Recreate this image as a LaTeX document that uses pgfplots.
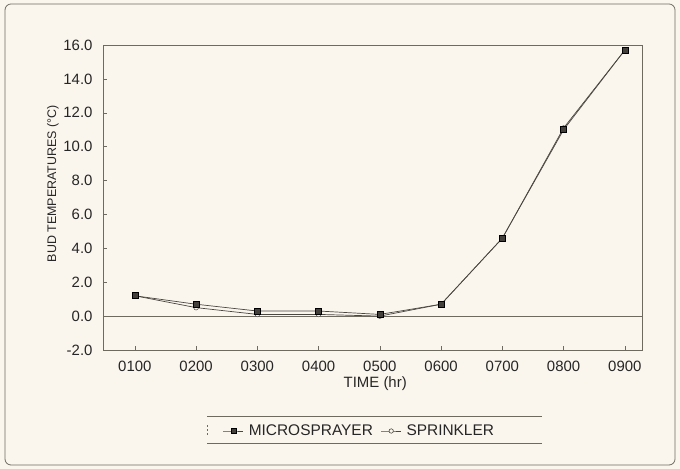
\documentclass[border=0pt]{standalone}
\usepackage{pgfplots}
\pgfplotsset{compat=1.18}
\usepackage{fontspec}
\setmainfont{Liberation Sans}
\definecolor{bg}{HTML}{FAF6EE}
\definecolor{ln}{HTML}{4A4640}
\definecolor{fr}{HTML}{6E6A60}
\begin{document}
\begin{tikzpicture}[x=1bp,y=1bp]
\fill[bg] (0,0) rectangle (680,469);
\draw[fr, line width=0.8pt, rounded corners=6bp] (5,4) rectangle (675,465);
\begin{axis}[
  at={(103bp,119bp)}, anchor=south west,
  scale only axis, width=539bp, height=305bp,
  xmin=0.48, xmax=9.28, ymin=-2, ymax=16,
  xtick={1,...,9},
  xticklabels={0100,0200,0300,0400,0500,0600,0700,0800,0900},
  ytick={-2,0,...,16},
  yticklabel style={xshift=-7bp, /pgf/number format/.cd,fixed,fixed zerofill,precision=1},
  xticklabel style={yshift=-8bp},
  /pgf/number format/assume math mode=true,
  tick label style={font=\fontsize{15}{17}\selectfont, text=black!85},
  xlabel={TIME (hr)}, ylabel={BUD TEMPERATURES (°C)},
  xlabel style={font=\fontsize{15}{17}\selectfont, text=black!85,
    at={(axis description cs:0.505,-0.111)}, anchor=center},
  ylabel style={font=\fontsize{12.5}{14}\selectfont, text=black!85,
    at={(axis description cs:-0.093,0.545)}, anchor=center},
  axis line style={fr, line width=0.6pt},
  tick style={fr, line width=0.5pt},
  major tick length=4bp,
  xtick pos=bottom, ytick pos=left,
  legend columns=2,
  legend style={at={(0.476,-0.2656)}, anchor=center, draw=none, fill=none,
    font=\fontsize{15.5}{17}\selectfont, text=black!85,
    /tikz/every odd column/.append style={column sep=3bp},
    /tikz/every even column/.append style={column sep=6bp}},
  legend image code/.code={\draw[mark repeat=2,mark phase=2,#1] plot coordinates {(0bp,0bp) (10bp,0bp) (20bp,0bp)};},
  legend cell align=left,
  clip=false,
]
\addplot[fr, line width=0.5pt, forget plot] coordinates {(0.48,0) (9.28,0)};
\addplot[ln, line width=0.7pt, mark=*, mark size=2.4bp, mark options={fill=bg, draw=ln, line width=0.5pt}, forget plot]
  coordinates {(1,1.2) (2,0.5) (3,0.1) (4,0.1) (5,0.0) (6,0.7) (7,4.6) (8,11.1) (9,15.7)};
\addplot[ln, line width=0.7pt, mark=square*, mark size=3bp, mark options={fill=ln!90!black, draw=black}, forget plot]
  coordinates {(1,1.2) (2,0.7) (3,0.3) (4,0.3) (5,0.1) (6,0.7) (7,4.6) (8,11.0) (9,15.7)};
\addlegendimage{ln, line width=0.7pt, mark=square*, mark size=2.6bp, mark options={fill=ln!90!black, draw=black}}
\addlegendentry{MICROSPRAYER}
\addlegendimage{ln, line width=0.6pt, mark=*, mark size=2.2bp, mark options={fill=bg, draw=ln}}
\addlegendentry{SPRINKLER}
\end{axis}
\draw[fr, line width=0.6pt] (207,53) -- (542,53);
\draw[fr, line width=0.6pt] (207,26) -- (542,26);
\draw[fr, line width=0.5pt, dash pattern=on 2bp off 2bp] (207,34) -- (207,44);
\end{tikzpicture}
\end{document}
